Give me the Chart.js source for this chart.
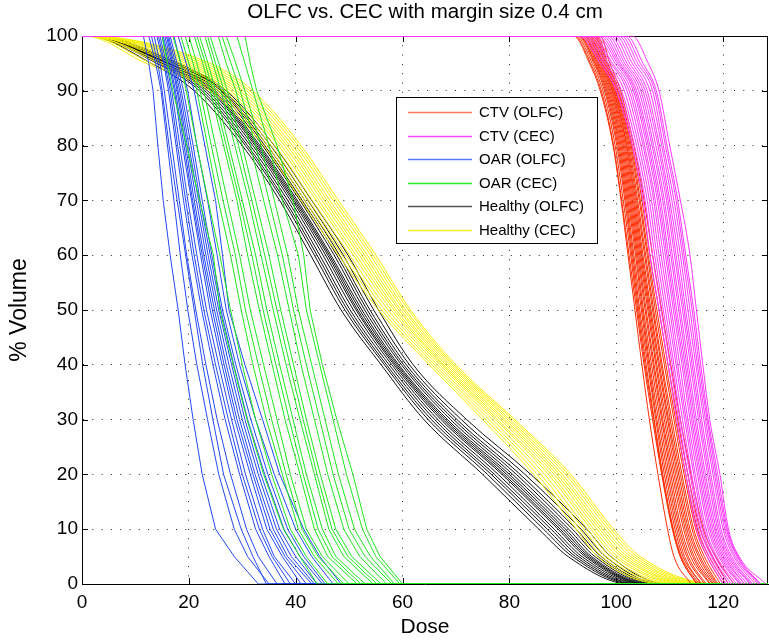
<!DOCTYPE html>
<html>
<head>
<meta charset="utf-8">
<title>OLFC vs. CEC with margin size 0.4 cm</title>
<script src="https://cdn.jsdelivr.net/npm/chart.js@4.4.0/dist/chart.umd.min.js"></script>
<style>
  html, body { margin: 0; padding: 0; background: #fff; }
  #wrap { width: 769px; height: 641px; position: relative; }
</style>
</head>
<body>
<div id="wrap"><canvas id="dvh"></canvas></div>
<script>
const VOLUME_LEVELS = [100, 95, 90, 80, 70, 60, 50, 40, 30, 20, 10, 5, 0];
const DOSE_MAX = 128.4;
const X_TICKS = [0, 20, 40, 60, 80, 100, 120];
const Y_TICKS = [0, 10, 20, 30, 40, 50, 60, 70, 80, 90, 100];

// dose at each volume level, one row per patient curve
const ctvOlfc = [
  [92.0, 95.0, 97.0, 99.4, 100.9, 102.2, 103.5, 104.8, 106.2, 107.8, 109.6, 110.8, 114.0],
  [92.2, 95.2, 97.2, 99.5, 101.0, 102.4, 103.8, 105.2, 106.8, 108.5, 110.5, 112.0, 115.0],
  [92.5, 95.5, 97.5, 99.8, 101.3, 102.7, 104.0, 105.4, 107.0, 108.6, 110.6, 112.0, 115.2],
  [92.8, 95.8, 97.8, 100.1, 101.6, 102.9, 104.2, 105.6, 107.1, 108.7, 110.7, 112.2, 115.5],
  [93.0, 96.0, 98.0, 100.3, 101.8, 103.1, 104.4, 105.9, 107.4, 109.0, 111.0, 112.5, 116.0],
  [93.2, 96.1, 98.2, 100.5, 102.0, 103.3, 104.7, 106.1, 107.6, 109.3, 111.3, 112.8, 115.8],
  [93.5, 96.3, 98.4, 100.7, 102.2, 103.6, 104.9, 106.3, 107.9, 109.6, 111.6, 113.2, 116.5],
  [93.8, 96.5, 98.6, 100.9, 102.4, 103.8, 105.1, 106.6, 108.2, 109.9, 111.9, 113.5, 116.8],
  [94.0, 96.6, 98.8, 101.1, 102.6, 104.0, 105.4, 106.9, 108.5, 110.2, 112.2, 113.9, 117.5],
  [94.2, 96.8, 99.0, 101.3, 102.8, 104.2, 105.6, 107.1, 108.7, 110.5, 112.6, 114.3, 117.6],
  [94.5, 97.0, 99.2, 101.5, 103.0, 104.4, 105.9, 107.4, 109.0, 110.8, 112.9, 114.6, 118.0],
  [94.8, 97.1, 99.3, 101.7, 103.2, 104.6, 106.1, 107.6, 109.3, 111.1, 113.2, 115.0, 118.2],
  [95.0, 97.3, 99.5, 101.9, 103.4, 104.8, 106.3, 107.9, 109.6, 111.4, 113.5, 115.4, 118.5],
  [95.2, 97.4, 99.6, 102.0, 103.6, 105.0, 106.5, 108.1, 109.8, 111.7, 113.8, 115.7, 118.8],
  [95.5, 97.6, 99.8, 102.2, 103.8, 105.3, 106.8, 108.4, 110.1, 112.0, 114.2, 116.1, 119.0],
  [95.8, 97.8, 99.9, 102.4, 104.0, 105.5, 107.0, 108.6, 110.4, 112.3, 114.5, 116.5, 119.5],
  [96.0, 98.0, 100.1, 102.6, 104.3, 105.8, 107.3, 109.0, 110.8, 112.7, 114.9, 117.0, 120.0],
  [96.2, 98.2, 100.3, 102.8, 104.5, 106.0, 107.6, 109.3, 111.1, 113.0, 115.2, 117.4, 120.5],
  [96.5, 98.4, 100.5, 103.0, 104.8, 106.3, 108.0, 109.7, 111.5, 113.4, 115.7, 118.0, 121.0],
  [97.0, 98.8, 100.8, 103.3, 105.2, 106.8, 108.5, 110.2, 112.0, 114.0, 116.3, 118.6, 122.0]
];
const ctvCec = [
  [93.0, 97.0, 100.0, 103.0, 105.0, 106.3, 108.0, 109.7, 111.3, 113.0, 115.0, 117.0, 120.0],
  [93.5, 97.5, 100.5, 103.4, 105.4, 106.8, 108.4, 110.1, 111.7, 113.4, 115.4, 117.4, 120.5],
  [94.0, 98.0, 101.0, 103.8, 105.8, 107.2, 108.8, 110.5, 112.0, 113.8, 115.8, 117.8, 121.0],
  [94.5, 98.5, 101.5, 104.2, 106.2, 107.6, 109.2, 110.8, 112.4, 114.1, 116.1, 118.1, 121.5],
  [95.0, 99.0, 102.0, 104.6, 106.6, 108.0, 109.6, 111.2, 112.8, 114.5, 116.5, 118.5, 122.0],
  [95.5, 99.3, 102.4, 105.0, 107.0, 108.4, 110.0, 111.5, 113.1, 114.8, 116.8, 118.8, 122.5],
  [96.0, 99.8, 102.8, 105.3, 107.3, 108.8, 110.3, 111.9, 113.4, 115.2, 117.2, 119.2, 123.0],
  [96.5, 100.2, 103.2, 105.7, 107.7, 109.2, 110.7, 112.3, 113.8, 115.5, 117.5, 119.5, 123.2],
  [97.0, 100.5, 103.5, 106.0, 108.0, 109.5, 111.0, 112.6, 114.1, 115.8, 117.8, 119.8, 123.5],
  [97.5, 100.8, 103.8, 106.3, 108.3, 109.8, 111.3, 112.9, 114.4, 116.1, 118.1, 120.1, 124.0],
  [98.0, 101.2, 104.2, 106.7, 108.7, 110.2, 111.7, 113.2, 114.7, 116.4, 118.4, 120.4, 124.0],
  [98.5, 101.6, 104.6, 107.0, 109.0, 110.5, 112.0, 113.5, 115.0, 116.7, 118.7, 120.7, 124.5],
  [99.0, 102.0, 105.0, 107.4, 109.4, 110.9, 112.4, 113.9, 115.4, 117.1, 119.0, 121.0, 125.0],
  [99.5, 102.5, 105.4, 107.8, 109.7, 111.2, 112.7, 114.2, 115.7, 117.4, 119.3, 121.3, 125.2],
  [100.0, 103.0, 105.8, 108.1, 110.0, 111.6, 113.0, 114.5, 116.0, 117.7, 119.6, 121.6, 125.5],
  [100.5, 103.5, 106.3, 108.5, 110.4, 112.0, 113.4, 114.9, 116.4, 118.1, 120.0, 122.0, 126.0],
  [101.0, 104.0, 106.8, 108.8, 110.8, 112.4, 113.8, 115.2, 116.7, 118.4, 120.3, 122.3, 126.5],
  [101.5, 104.5, 107.2, 109.2, 111.2, 112.7, 114.2, 115.5, 117.0, 118.7, 120.6, 122.6, 126.8],
  [102.0, 105.0, 107.5, 109.5, 111.5, 113.0, 114.5, 115.8, 117.2, 119.0, 120.8, 122.8, 127.0],
  [103.0, 106.0, 108.0, 110.0, 112.0, 113.8, 115.0, 116.2, 117.5, 119.4, 121.0, 123.0, 128.0]
];
const oarOlfc = [
  [11.5, 12.5, 13.3, 14.2, 15.2, 16.5, 18.0, 19.3, 20.8, 22.5, 25.0, 28.5, 33.0],
  [12.5, 13.8, 14.8, 16.0, 17.2, 18.4, 19.8, 21.5, 23.5, 25.6, 28.5, 31.0, 35.0],
  [13.0, 14.2, 15.0, 16.3, 17.8, 19.4, 21.0, 22.6, 24.5, 26.5, 29.8, 32.0, 34.5],
  [13.5, 14.6, 15.4, 16.8, 18.2, 19.6, 21.3, 23.2, 25.3, 27.8, 30.8, 33.0, 36.5],
  [14.0, 15.3, 16.2, 17.6, 19.0, 20.6, 22.4, 24.5, 26.8, 29.5, 32.5, 35.0, 38.0],
  [14.3, 15.5, 16.5, 17.9, 19.4, 21.0, 22.8, 25.0, 27.4, 30.0, 33.2, 35.6, 39.0],
  [14.6, 15.8, 16.8, 18.3, 19.8, 21.5, 23.3, 25.6, 28.0, 30.6, 33.8, 36.0, 40.0],
  [15.0, 16.2, 17.3, 18.8, 20.5, 22.2, 24.0, 26.2, 28.6, 31.5, 34.6, 37.5, 41.0],
  [15.2, 16.5, 17.5, 19.1, 20.7, 22.5, 24.4, 26.6, 29.0, 32.0, 35.2, 38.0, 42.0],
  [15.5, 16.8, 17.8, 19.4, 21.0, 22.8, 24.8, 27.0, 29.5, 32.4, 35.8, 38.5, 43.0],
  [15.8, 17.0, 18.0, 19.7, 21.4, 23.2, 25.2, 27.5, 30.0, 33.0, 36.4, 39.2, 43.5],
  [16.0, 17.2, 18.3, 20.0, 21.8, 23.6, 25.6, 28.0, 30.5, 33.5, 37.0, 40.0, 44.0],
  [16.2, 17.5, 18.6, 20.4, 22.1, 24.0, 26.0, 28.4, 31.0, 34.2, 37.8, 40.8, 45.0],
  [16.5, 17.8, 19.0, 20.8, 22.5, 24.3, 26.3, 28.8, 31.6, 34.8, 38.5, 41.5, 45.5],
  [17.2, 18.5, 19.8, 21.5, 23.5, 25.3, 27.0, 29.5, 32.5, 36.0, 40.0, 43.0, 47.0],
  [18.0, 19.5, 21.0, 23.0, 25.0, 26.3, 27.5, 30.5, 33.8, 37.0, 41.5, 44.5, 48.5]
];
const oarCec = [
  [15.0, 16.0, 17.0, 19.6, 22.0, 24.6, 25.8, 28.3, 30.9, 34.0, 37.7, 40.8, 44.0],
  [17.0, 18.5, 19.5, 21.5, 23.6, 25.8, 27.8, 30.0, 32.5, 35.5, 39.0, 42.0, 46.0],
  [18.5, 20.0, 21.5, 23.5, 25.5, 27.8, 29.8, 32.0, 34.5, 37.5, 40.5, 43.5, 48.0],
  [19.3, 20.8, 22.1, 24.2, 26.4, 28.7, 30.6, 33.0, 35.5, 38.2, 41.2, 44.2, 49.0],
  [20.0, 21.5, 22.8, 25.0, 27.2, 29.5, 31.5, 34.0, 36.5, 39.0, 42.0, 45.0, 50.0],
  [21.0, 22.6, 24.0, 26.5, 29.0, 31.0, 33.2, 35.6, 38.0, 40.8, 43.5, 46.0, 51.5],
  [21.5, 23.1, 24.5, 27.0, 29.5, 31.8, 33.9, 36.3, 38.8, 41.4, 44.2, 46.8, 52.2],
  [22.0, 23.6, 25.0, 27.5, 30.0, 32.5, 34.6, 37.0, 39.5, 42.0, 45.0, 47.5, 53.0],
  [23.0, 24.5, 26.0, 28.6, 31.2, 33.5, 35.8, 38.2, 40.8, 43.5, 46.2, 49.0, 54.5],
  [23.5, 25.0, 26.6, 29.3, 31.8, 34.2, 36.5, 38.9, 41.4, 44.0, 46.8, 49.8, 55.2],
  [24.0, 25.6, 27.2, 30.0, 32.5, 35.0, 37.2, 39.6, 42.0, 44.6, 47.5, 50.5, 56.0],
  [25.5, 27.0, 28.8, 31.5, 34.0, 36.6, 38.8, 41.0, 43.5, 46.0, 49.0, 52.0, 57.0],
  [26.2, 27.9, 29.6, 32.5, 35.0, 37.5, 39.6, 42.0, 44.5, 47.0, 50.0, 53.0, 58.0],
  [27.0, 28.8, 30.5, 33.5, 36.0, 38.5, 40.5, 43.0, 45.5, 48.0, 51.0, 54.0, 58.5],
  [29.0, 30.5, 32.0, 35.0, 37.5, 40.5, 42.0, 44.5, 47.0, 49.5, 52.5, 55.0, 59.5],
  [30.5, 31.5, 32.7, 36.5, 39.5, 41.5, 42.7, 45.0, 47.7, 50.7, 53.3, 55.8, 60.0]
];
const healthyOlfc = [
  [1.0, 13.0, 21.0, 30.0, 37.0, 42.8, 48.5, 56.0, 64.0, 75.0, 85.5, 91.0, 102.5],
  [1.0, 14.0, 22.0, 30.6, 37.6, 43.5, 49.2, 56.6, 64.8, 75.9, 86.4, 91.8, 103.2],
  [1.5, 14.5, 22.5, 31.0, 38.0, 44.0, 49.7, 57.0, 65.4, 76.6, 87.1, 92.4, 103.7],
  [1.5, 15.0, 23.0, 31.5, 38.5, 44.5, 50.2, 57.5, 66.0, 77.2, 87.8, 93.0, 104.2],
  [2.0, 15.2, 23.5, 32.0, 39.0, 45.1, 50.8, 58.0, 66.6, 77.9, 88.4, 93.6, 104.8],
  [2.0, 15.5, 24.0, 32.4, 39.4, 45.6, 51.3, 58.4, 67.2, 78.6, 89.1, 94.2, 105.3],
  [1.5, 16.0, 24.3, 32.7, 39.7, 46.0, 51.6, 58.7, 67.6, 79.0, 89.5, 94.6, 105.6],
  [1.0, 16.2, 24.6, 33.0, 40.0, 46.3, 52.0, 59.0, 68.0, 79.5, 90.0, 95.0, 106.0],
  [2.0, 16.5, 25.0, 33.3, 40.3, 46.6, 52.4, 59.3, 68.4, 80.0, 90.5, 95.4, 106.4],
  [1.0, 16.0, 25.5, 33.8, 40.8, 47.2, 52.9, 59.8, 69.0, 80.6, 91.1, 96.0, 106.9],
  [2.5, 17.0, 26.0, 34.2, 41.2, 47.7, 53.4, 60.2, 69.6, 81.3, 91.8, 96.6, 107.4],
  [2.0, 17.2, 26.2, 34.7, 41.7, 48.2, 53.9, 60.7, 70.2, 82.0, 92.5, 97.2, 107.9],
  [1.5, 17.5, 26.5, 35.3, 42.3, 48.9, 54.6, 61.3, 71.0, 82.9, 93.4, 98.0, 108.6],
  [2.0, 18.0, 27.0, 36.0, 43.0, 49.8, 55.5, 62.0, 72.0, 84.0, 94.5, 99.0, 109.5]
];
const healthyCec = [
  [0.5, 12.0, 24.0, 34.0, 41.0, 48.0, 55.5, 65.0, 75.0, 84.5, 92.5, 96.5, 109.0],
  [1.0, 13.0, 24.8, 34.7, 41.7, 48.7, 56.1, 65.5, 75.6, 85.2, 93.2, 97.3, 110.0],
  [1.0, 14.5, 25.6, 35.4, 42.4, 49.4, 56.7, 66.0, 76.2, 85.9, 93.9, 98.1, 111.0],
  [0.5, 15.5, 26.4, 36.1, 43.1, 50.1, 57.3, 66.5, 76.8, 86.6, 94.6, 98.9, 112.0],
  [1.0, 16.8, 27.2, 36.8, 43.8, 50.8, 57.9, 67.0, 77.4, 87.3, 95.3, 99.7, 113.0],
  [1.0, 17.6, 27.8, 37.3, 44.3, 51.3, 58.4, 67.4, 77.8, 87.8, 95.8, 100.3, 113.7],
  [0.5, 18.6, 28.4, 37.9, 44.9, 51.9, 58.8, 67.7, 78.3, 88.4, 96.4, 101.0, 114.5],
  [0.5, 19.5, 29.0, 38.4, 45.4, 52.4, 59.3, 68.1, 78.8, 88.9, 96.9, 101.5, 115.2],
  [1.0, 20.4, 29.6, 38.9, 45.9, 52.9, 59.7, 68.5, 79.2, 89.4, 97.4, 102.1, 116.0],
  [1.0, 21.3, 30.2, 39.4, 46.4, 53.4, 60.2, 68.9, 79.7, 89.9, 97.9, 102.7, 116.8],
  [0.5, 22.2, 30.8, 40.0, 47.0, 54.0, 60.6, 69.3, 80.1, 90.5, 98.5, 103.3, 117.5],
  [1.0, 23.1, 31.4, 40.5, 47.5, 54.5, 61.1, 69.6, 80.6, 91.0, 99.0, 103.9, 118.3],
  [0.5, 24.0, 32.0, 41.0, 48.0, 55.0, 61.5, 70.0, 81.0, 91.5, 99.5, 104.5, 119.0]
];

const GROUP_LABELS = ['CTV (OLFC)', 'CTV (CEC)', 'OAR (OLFC)', 'OAR (CEC)', 'Healthy (OLFC)', 'Healthy (CEC)'];
const GROUP_DATA = [ctvOlfc, ctvCec, oarOlfc, oarCec, healthyOlfc, healthyCec];
const LINE_COLORS = ['#ff2a00', '#ff33ff', '#2348f5', '#1ee61e', '#111111', '#f5ef00'];
const KEY_COLORS = ['#ff7a5c', '#ff44ff', '#5a7cff', '#22ee22', '#555555', '#ffee22'];
// drawing order: lower = on top (magenta top edge, green bottom edge)
const DRAW_ORDER = [2, 0, 3, 1, 5, 4];
const SMOOTH = [true, true, false, false, true, true];
const TAIL = [false, false, true, true, true, true];

const FONT = '"Liberation Sans", Arial, Helvetica, sans-serif';

const datasets = [];
GROUP_DATA.forEach((curves, g) => {
  curves.forEach(doses => {
    const pts = [{x: 0, y: 100}];
    VOLUME_LEVELS.forEach((v, i) => pts.push({x: doses[i], y: v}));
    if (TAIL[g]) pts.push({x: DOSE_MAX, y: 0});
    datasets.push({
      label: GROUP_LABELS[g],
      data: pts,
      showLine: true,
      borderColor: LINE_COLORS[g],
      borderWidth: 1,
      pointRadius: 0,
      fill: false,
      order: DRAW_ORDER[g],
      cubicInterpolationMode: SMOOTH[g] ? 'monotone' : 'default',
      tension: 0
    });
  });
});

// box round the axes + small inward tick marks (MATLAB style)
const framePlugin = {
  id: 'frame',
  beforeDatasetsDraw(chart) {
    const {ctx, chartArea: a, scales: {x, y}} = chart;
    ctx.save();
    ctx.strokeStyle = '#000';
    ctx.lineWidth = 1;
    ctx.beginPath();
    ctx.moveTo(a.left, a.top + 0.5); ctx.lineTo(a.right, a.top + 0.5);
    ctx.moveTo(a.right - 0.5, a.top); ctx.lineTo(a.right - 0.5, a.bottom);
    X_TICKS.forEach(v => {
      const px = Math.round(x.getPixelForValue(v)) + 0.5;
      ctx.moveTo(px, a.bottom); ctx.lineTo(px, a.bottom - 6);
      ctx.moveTo(px, a.top); ctx.lineTo(px, a.top + 6);
    });
    Y_TICKS.forEach(v => {
      const py = Math.round(y.getPixelForValue(v)) + 0.5;
      ctx.moveTo(a.left, py); ctx.lineTo(a.left + 6, py);
      ctx.moveTo(a.right, py); ctx.lineTo(a.right - 6, py);
    });
    ctx.stroke();
    ctx.restore();
  }
};

// legend box inside the plot, like the original figure
const boxLegend = {
  id: 'boxLegend',
  afterDraw(chart) {
    const {ctx, chartArea: a} = chart;
    const x0 = a.left + 314.5, y0 = a.top + 61.5, w = 201, h = 146;
    ctx.save();
    ctx.fillStyle = '#fff';
    ctx.fillRect(x0, y0, w, h);
    ctx.strokeStyle = '#000';
    ctx.lineWidth = 1;
    ctx.strokeRect(x0, y0, w, h);
    ctx.font = '15px ' + FONT;
    ctx.textBaseline = 'middle';
    ctx.textAlign = 'left';
    GROUP_LABELS.forEach((label, i) => {
      const yy = Math.round(y0 + 14.5 + i * 23.5) + 0.5;
      ctx.strokeStyle = KEY_COLORS[i];
      ctx.lineWidth = 1.5;
      ctx.beginPath();
      ctx.moveTo(x0 + 11.5, yy);
      ctx.lineTo(x0 + 75.5, yy);
      ctx.stroke();
      ctx.fillStyle = '#000';
      ctx.fillText(label, x0 + 82.5, yy + 0.5);
    });
    ctx.restore();
  }
};

new Chart(document.getElementById('dvh'), {
  type: 'scatter',
  data: { datasets },
  plugins: [framePlugin, boxLegend],
  options: {
    responsive: true,
    maintainAspectRatio: false,
    animation: false,
    devicePixelRatio: 1,
    events: [],
    layout: { padding: { left: 0, right: 1, top: 0, bottom: 0 } },
    plugins: {
      legend: { display: false },
      tooltip: { enabled: false },
      title: {
        display: true,
        text: 'OLFC vs. CEC with margin size 0.4 cm',
        color: '#000',
        fullSize: false,
        font: { family: FONT, size: 20.5, weight: 'normal' },
        padding: { top: 0, bottom: 11.4 }
      }
    },
    scales: {
      x: {
        type: 'linear',
        min: 0,
        max: DOSE_MAX,
        afterBuildTicks: s => { s.ticks = X_TICKS.map(v => ({value: v})); },
        afterFit: s => { s.height = 57; },
        ticks: { color: '#000', padding: 7, maxRotation: 0, font: { family: FONT, size: 19 } },
        grid: { color: 'rgba(0,0,0,0.85)', lineWidth: 1, drawTicks: false },
        border: { display: true, color: '#000', width: 1, dash: [1, 8.3] },
        title: {
          display: true, text: 'Dose', color: '#000',
          font: { family: FONT, size: 21 }, padding: { top: 0, bottom: 1 }
        }
      },
      y: {
        type: 'linear',
        min: 0,
        max: 100,
        afterBuildTicks: s => { s.ticks = Y_TICKS.map(v => ({value: v})); },
        afterFit: s => { s.width = 82; },
        ticks: { color: '#000', padding: 4, font: { family: FONT, size: 19 } },
        grid: { color: 'rgba(0,0,0,0.85)', lineWidth: 1, drawTicks: false },
        border: { display: true, color: '#000', width: 1, dash: [1, 8.3] },
        title: {
          display: true, text: '% Volume', color: '#000',
          font: { family: FONT, size: 23 }, padding: { top: 6, bottom: 0 }
        }
      }
    }
  }
});
</script>
</body>
</html>
